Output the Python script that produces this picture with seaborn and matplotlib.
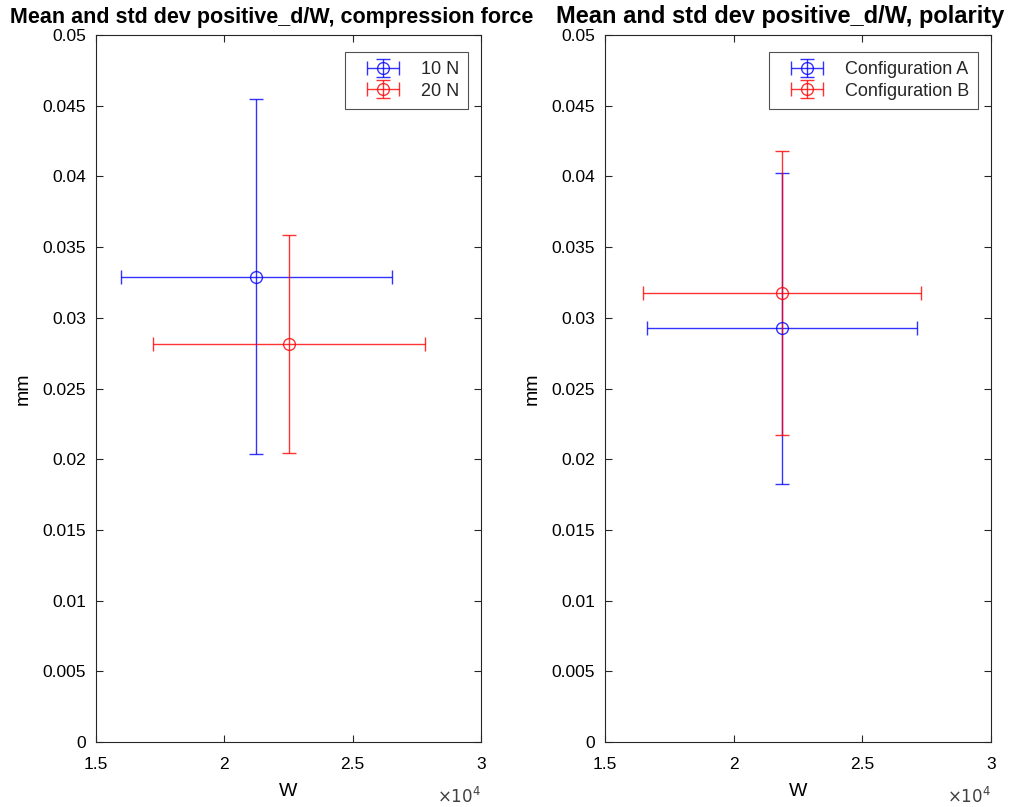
import matplotlib
matplotlib.use("Agg")
import matplotlib.pyplot as plt
import seaborn as sns
import pandas as pd
from matplotlib.ticker import FuncFormatter, MultipleLocator
from matplotlib.legend_handler import HandlerErrorbar

# Mean power W (x) and displacement positive_d in mm (y), with standard deviations
force_labels = ["10 N", "20 N"]
force_w_mean = [21250, 22510]
force_w_std = [5290, 5290]
force_d_mean = [0.03291, 0.02817]
force_d_std = [0.01257, 0.00770]

polarity_labels = ["Configuration A", "Configuration B"]
polarity_w_mean = [21870, 21870]
polarity_w_std = [5250, 5390]
polarity_d_mean = [0.02928, 0.03175]
polarity_d_std = [0.01100, 0.01003]

titles = ["Mean and std dev positive_d/W, compression force",
          "Mean and std dev positive_d/W, polarity"]
series_colors = ["#0000ff", "#ff0000"]

sns.set_theme(style="ticks")
plt.rcParams["font.family"] = ["Liberation Sans", "DejaVu Sans"]
axis_color = "#262626"

fig = plt.figure(figsize=(10.16, 8.07), dpi=100)
ax_left = fig.add_axes([0.0945, 0.0805, 0.379, 0.876])
ax_right = fig.add_axes([0.5955, 0.0805, 0.380, 0.876])

panels = [
    (ax_left, force_labels, force_w_mean, force_w_std, force_d_mean, force_d_std),
    (ax_right, polarity_labels, polarity_w_mean, polarity_w_std, polarity_d_mean, polarity_d_std),
]
title_style = [dict(size=15.5, x=0.457), dict(size=17, x=0.453)]

for (ax, labels, wm, ws, dm, ds), title, ts in zip(panels, titles, title_style):
    df = pd.DataFrame({"label": labels, "W": wm, "W_std": ws, "d": dm, "d_std": ds})
    for (_, row), col in zip(df.iterrows(), series_colors):
        ax.errorbar(row["W"], row["d"], xerr=row["W_std"], yerr=row["d_std"],
                    fmt="o", color=col, mfc="none", mec=col, ms=8.5, mew=1.0,
                    elinewidth=1.0, capsize=5, capthick=1.0, alpha=0.8,
                    label=row["label"])
    sns.despine(ax=ax, top=False, right=False)
    ax.set_xlim(15000, 30000)
    ax.set_ylim(0, 0.05)
    ax.xaxis.set_major_locator(MultipleLocator(5000))
    ax.yaxis.set_major_locator(MultipleLocator(0.005))
    ax.xaxis.set_major_formatter(FuncFormatter(lambda v, p: "%g" % (v / 1e4)))
    ax.yaxis.set_major_formatter(FuncFormatter(lambda v, p: "%g" % v))
    ax.tick_params(direction="in", length=5, width=0.8, top=True, right=True,
                   labelsize=12.5, colors=axis_color, labelcolor="black", pad=7)
    ax.tick_params(axis="x", pad=11)
    for sp in ax.spines.values():
        sp.set_color(axis_color)
        sp.set_linewidth(0.8)
    ax.set_xlabel("W", fontsize=14, labelpad=8, color="black")
    ax.set_ylabel("mm", fontsize=14, labelpad=8, color="black")
    ax.set_title(title, fontsize=ts["size"], fontweight="bold", x=ts["x"],
                 pad=9, color="black")
    ax.text(1.0, -0.076, r"$\times10^{4}$", transform=ax.transAxes,
            ha="right", va="center", fontsize=12, color="#404040")
    leg = ax.legend(loc="upper right", fontsize=13, frameon=True, fancybox=False,
                    bbox_to_anchor=(1 - 13 / 385, 1 - 17 / 707), borderaxespad=0,
                    handlelength=3.2, handletextpad=0.5, labelspacing=0.25,
                    borderpad=0.5,
                    handler_map={matplotlib.container.ErrorbarContainer:
                                 HandlerErrorbar(xerr_size=0.9, yerr_size=0.5)})
    leg.get_frame().set_edgecolor(axis_color)
    leg.get_frame().set_linewidth(0.8)

fig.savefig("out.png", dpi=100, facecolor="white")
